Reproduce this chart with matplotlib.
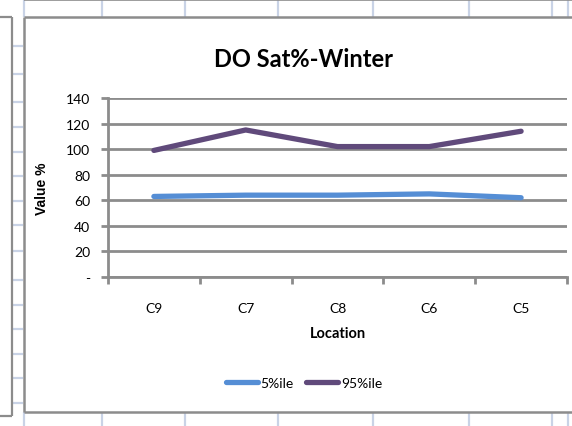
import matplotlib
matplotlib.use("Agg")
import matplotlib.pyplot as plt
from matplotlib.lines import Line2D

plt.rcParams['font.family'] = ['Lato', 'DejaVu Sans']

locations = ["C9", "C7", "C8", "C6", "C5"]
pct5 = [63, 64, 64, 65, 62]
pct95 = [99, 115, 102, 102, 114]
yticks = [0, 20, 40, 60, 80, 100, 120, 140]
ytick_labels = ["-", "20", "40", "60", "80", "100", "120", "140"]

# worksheet cell borders behind the chart (pixels)
sheet_cols = [24, 102, 185, 278, 373, 469, 552, 568]
sheet_rows = [47, 75, 103, 128, 153, 177, 202, 226, 252, 281, 306, 330, 355, 379, 404]

W, H = 572, 427
BLUE = "#558ed5"
PURPLE = "#604a7b"
GRID = "#8c8c8c"
CELL = "#c9d3e6"

fig = plt.figure(figsize=(W / 100, H / 100), dpi=100)
fig.patch.set_facecolor("white")


def hline(y, x0, x1, color, lw):
    fig.add_artist(Line2D([x0 / W, x1 / W], [1 - y / H, 1 - y / H],
                          color=color, lw=lw, solid_capstyle="butt"))


def vline(x, y0, y1, color, lw):
    fig.add_artist(Line2D([x / W, x / W], [1 - y0 / H, 1 - y1 / H],
                          color=color, lw=lw, solid_capstyle="butt"))


# sheet grid above and below the chart frame
for c in sheet_cols:
    vline(c, 0, 18, CELL, 1.6)
    vline(c, 413, H, CELL, 1.6)
for r in sheet_rows:
    hline(r, 13, 23, CELL, 1.6)
hline(0.5, 24, W, GRID, 1.2)

# neighbouring chart's edge on the left
vline(12, 18, 417, GRID, 1.6)
hline(18, 0, 12, GRID, 1.6)
hline(417, 0, 12, GRID, 1.6)

# chart frame
hline(18, 24, W, GRID, 1.8)
hline(413, 24, W, GRID, 1.8)
vline(24, 18, 413, GRID, 1.8)

ax = fig.add_axes([108 / W, 1 - 278 / H, (567 - 108) / W, 179 / H])
ax.set_facecolor("none")

x = list(range(len(locations)))
ax.plot(x, pct5, color=BLUE, lw=3.8, solid_capstyle="round", label="5%ile", zorder=3)
ax.plot(x, pct95, color=PURPLE, lw=3.8, solid_capstyle="round", label="95%ile", zorder=3)

ax.set_xlim(-0.5, len(locations) - 0.5)
ax.set_ylim(0, 140)
ax.set_yticks(yticks)
ax.set_yticklabels(ytick_labels, fontsize=10)
ax.yaxis.grid(True, color=GRID, lw=2)
ax.set_axisbelow(True)

ax.set_xticks(x)
ax.set_xticklabels(locations, fontsize=10)
ax.set_xticks([i - 0.5 for i in range(len(locations) + 1)], minor=True)
ax.tick_params(axis="x", which="major", length=0, pad=18)
ax.tick_params(axis="x", which="minor", length=5, width=2, color=GRID, direction="out")
ax.tick_params(axis="y", length=5, width=2, color=GRID, pad=8)

for side in ["top", "right"]:
    ax.spines[side].set_visible(False)
for side in ["left", "bottom"]:
    ax.spines[side].set_color(GRID)
    ax.spines[side].set_linewidth(2)

ax.set_ylabel("Value %", fontsize=10, fontweight="bold", family="Liberation Sans", labelpad=12)
ax.set_xlabel("Location", fontsize=10.5, fontweight="bold", labelpad=9)

fig.text(304 / W, 1 - 60 / H, "DO Sat%-Winter", fontsize=17, fontweight="bold",
         ha="center", va="center")

leg = fig.legend(loc="center", bbox_to_anchor=(304 / W, 1 - 384 / H), ncol=2,
                 frameon=False, fontsize=10, handlelength=2.3, handletextpad=0.2,
                 columnspacing=0.9)

fig.savefig("out.png", dpi=100)
